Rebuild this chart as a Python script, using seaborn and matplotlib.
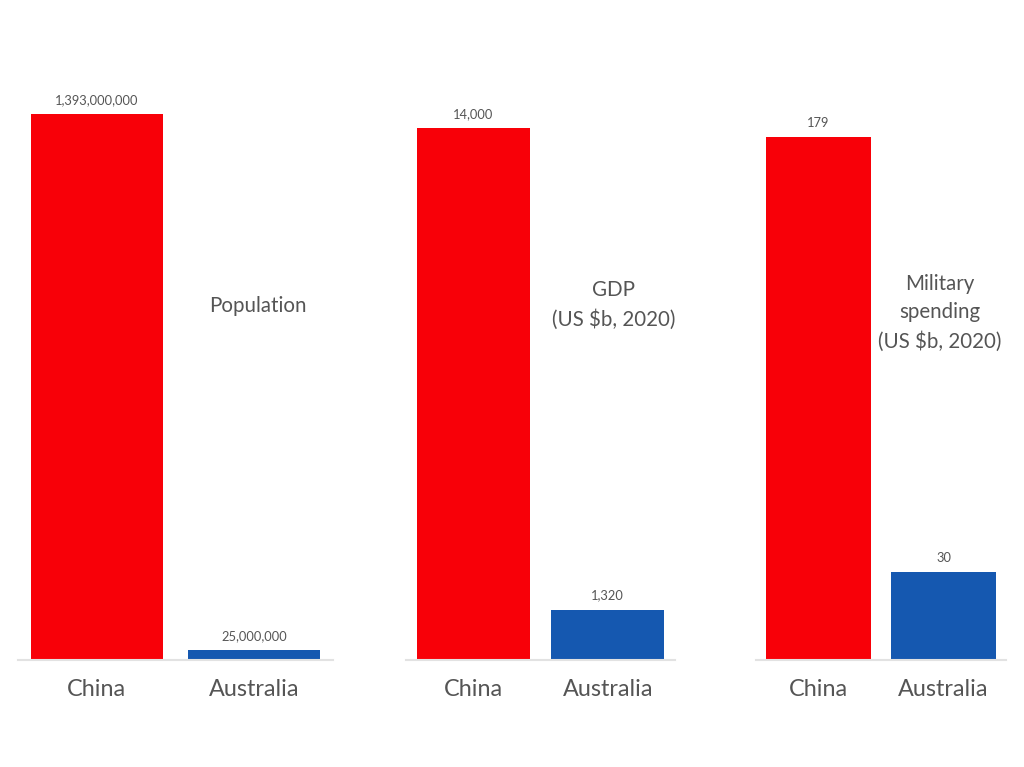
import matplotlib
matplotlib.use("Agg")
import matplotlib.pyplot as plt
import seaborn as sns
import pandas as pd

countries = ["China", "Australia"]
population = [1393000000, 25000000]
gdp = [14000, 1320]
military = [179, 30]
value_labels = [
    ["1,393,000,000", "25,000,000"],
    ["14,000", "1,320"],
    ["179", "30"],
]
titles = ["Population", "GDP\n(US $b, 2020)", "Military\nspending\n(US $b, 2020)"]
series = [population, gdp, military]

colors = {"China": "#f80008", "Australia": "#1558b0"}

sns.set_theme(style="white")
plt.rcParams["font.family"] = ["Lato", "DejaVu Sans"]

fig = plt.figure(figsize=(10.24, 7.67), dpi=100)
fig.patch.set_facecolor("white")

W, H = 1024, 767
base_px = 660
top_px = 100
# (left px, width px, china top px, title x frac, title y frac)
layout = [
    (18, 315, 114, 0.76, 0.632),
    (406, 269, 128, 0.773, 0.634),
    (756, 250, 137, 0.735, 0.62),
]

for i, (vals, labs, title, (lx, wx, ctop, tx, ty)) in enumerate(
        zip(series, value_labels, titles, layout)):
    ax = fig.add_axes([lx / W, (H - base_px) / H, wx / W, (base_px - top_px) / H])
    df = pd.DataFrame({"country": countries, "value": vals})
    sns.barplot(data=df, x="country", y="value", hue="country",
                palette=colors, width=0.84, saturation=1, legend=False,
                ax=ax, edgecolor="none")
    ymax = vals[0] * (base_px - top_px) / (base_px - ctop)
    ax.set_ylim(0, ymax)
    ax.set_xlim(-0.5, 1.5)
    for j, (v, lab) in enumerate(zip(vals, labs)):
        ax.annotate(lab, (j, v), xytext=(0, 6), textcoords="offset points",
                    ha="center", va="bottom", fontsize=9.3, color="#555555")
    ax.text(tx, ty, title, transform=ax.transAxes, ha="center", va="center",
            fontsize=14.8, color="#555555", linespacing=1.55)
    ax.set_xlabel("")
    ax.set_ylabel("")
    ax.set_yticks([])
    ax.tick_params(axis="x", length=0, pad=14, labelsize=16.8, labelcolor="#555555")
    for s in ["top", "right", "left"]:
        ax.spines[s].set_visible(False)
    ax.spines["bottom"].set_color("#e2e2e2")
    ax.spines["bottom"].set_linewidth(1.5)
    ax.set_facecolor("white")

fig.savefig("out.png", dpi=100, facecolor="white")
